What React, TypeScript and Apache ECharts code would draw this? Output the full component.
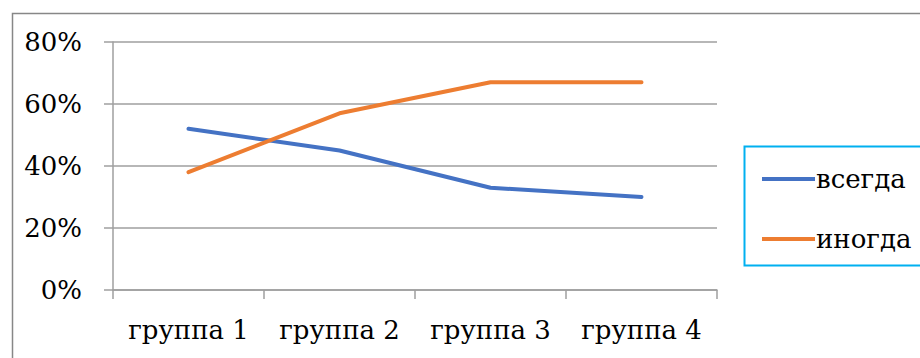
import React, { useEffect, useRef } from "react";
import * as echarts from "echarts";

const categories = ["группа 1", "группа 2", "группа 3", "группа 4"];
const seriesNames = ["всегда", "иногда"];
const alwaysValues = [52, 45, 33, 30];
const sometimesValues = [38, 57, 67, 67];
const yTicks = [0, 20, 40, 60, 80];

const FONT = "DejaVu Serif";

export default function App() {
  const ref = useRef<HTMLDivElement>(null);
  useEffect(() => {
    if (!ref.current) return;
    const chart = echarts.init(ref.current, null, { renderer: "svg" });
    chart.setOption({
      animation: false,
      backgroundColor: "#ffffff",
      textStyle: { fontFamily: FONT },
      grid: { left: 113, right: 203, top: 42, bottom: 68 },
      xAxis: {
        type: "category",
        data: categories,
        boundaryGap: true,
        axisLine: { show: true, lineStyle: { color: "#9f9f9f", width: 1.5 } },
        axisTick: { show: true, length: 9, interval: 0, lineStyle: { color: "#9f9f9f", width: 1.5 } },
        axisLabel: { color: "#000000", fontFamily: FONT, fontSize: 26, margin: 27, interval: 0 },
        splitLine: { show: false },
      },
      yAxis: {
        type: "value",
        min: yTicks[0],
        max: yTicks[yTicks.length - 1],
        interval: 20,
        axisLine: { show: true, lineStyle: { color: "#9f9f9f", width: 1.5 } },
        axisTick: { show: true, length: 9, lineStyle: { color: "#9f9f9f", width: 1.5 } },
        axisLabel: { color: "#000000", fontFamily: FONT, fontSize: 26, margin: 31, formatter: "{value}%" },
        splitLine: { show: true, lineStyle: { color: "#9f9f9f", width: 1.5 } },
      },
      legend: {
        orient: "vertical",
        left: 757,
        top: 161,
        itemWidth: 53,
        itemHeight: 4,
        itemGap: 34,
        icon: "rect",
        textStyle: { color: "#000000", fontFamily: FONT, fontSize: 26, padding: [0, 0, 0, -4] },
        data: seriesNames,
      },
      graphic: [
        {
          type: "rect",
          left: 10,
          top: 11,
          shape: { width: 1000, height: 500 },
          style: { fill: "none", stroke: "#878787", lineWidth: 1.5 },
          silent: true,
          z: -10,
        },
        {
          type: "rect",
          left: 742,
          top: 144,
          shape: { width: 300, height: 119 },
          style: { fill: "none", stroke: "#00B0F0", lineWidth: 2 },
          silent: true,
        },
      ],
      series: [
        {
          name: seriesNames[0],
          type: "line",
          data: alwaysValues,
          symbol: "none",
          lineStyle: { color: "#4472C4", width: 4, cap: "round", join: "round" },
          itemStyle: { color: "#4472C4" },
        },
        {
          name: seriesNames[1],
          type: "line",
          data: sometimesValues,
          symbol: "none",
          lineStyle: { color: "#ED7D31", width: 4, cap: "round", join: "round" },
          itemStyle: { color: "#ED7D31" },
        },
      ],
    });
    return () => chart.dispose();
  }, []);
  return <div ref={ref} style={{ width: 920, height: 358, position: "absolute", left: 0, top: 0 }} />;
}
